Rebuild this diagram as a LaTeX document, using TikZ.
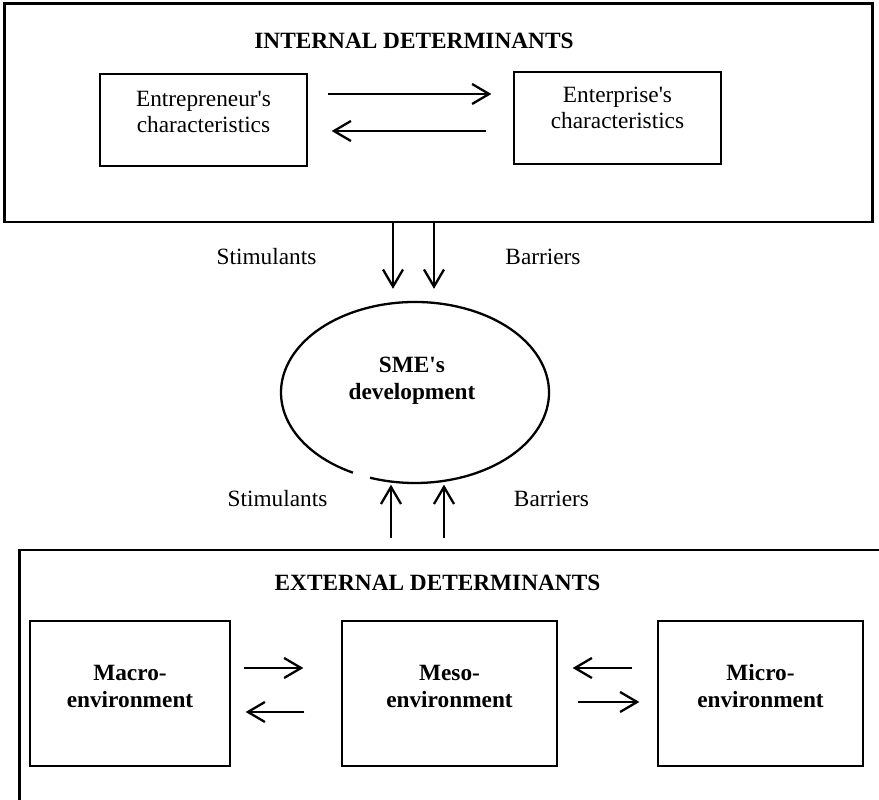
\documentclass[tikz,border=0pt]{standalone}
\usepackage{fontspec}
\setmainfont{Liberation Serif}
\usetikzlibrary{arrows.meta,shapes.geometric,calc}
\newcommand{\ap}{\textquotesingle}
\begin{document}
\begin{tikzpicture}[x=1pt,y=1pt,
  outer/.style={draw, line width=2.5pt, inner sep=0pt},
  inbox/.style={draw, line width=1.3pt, inner sep=0pt},
  reg/.style={font=\fontsize{23.3}{26}\selectfont, align=center, inner sep=0pt},
  bld/.style={font=\fontsize{23.3}{27}\selectfont\bfseries, align=center, inner sep=0pt},
  arr/.style={line width=2.3pt, -{Straight Barb[length=17pt,width=20pt]}},
]
\useasboundingbox (0,0) rectangle (879,800);
\clip (0,0) rectangle (879,800);

% internal determinants
\node[outer, minimum width=868pt, minimum height=218.5pt] (intbox) at (438.5,687.25) {};
\node[bld] (intt) at (414,759.5) {INTERNAL DETERMINANTS};
\node[inbox, minimum width=207pt, minimum height=92pt] (ent) at (203.5,680) {};
\node[reg] (entt) at (203.5,687.8) {Entrepreneur\ap s\\characteristics};
\node[inbox, minimum width=207pt, minimum height=92pt] (epr) at (617.5,682) {};
\node[reg] (eprt) at (617.5,691.8) {Enterprise\ap s\\characteristics};
\draw[arr, shorten <=20pt, shorten >=22pt] (ent.east |- 0,706) -- (epr.west |- 0,706);
\draw[arr, shorten <=27pt, shorten >=24pt] (epr.west |- 0,669) -- (ent.east |- 0,669);

% SME development
\node[ellipse, minimum width=268pt, minimum height=181pt, inner sep=0pt] (sme) at (415,407.5) {};
\draw[line width=2.3pt] ($(sme.center)+(250.4:134 and 90.5)$) arc[start angle=250.4, end angle=602.4, x radius=134, y radius=90.5];
\node[bld] (smet) at (412,419) {SME\ap s\\development};

\draw[arr, shorten >=13pt] (intbox.south -| 393,0) -- (sme.north -| 393,0);
\draw[arr, shorten >=13pt] (intbox.south -| 434,0) -- (sme.north -| 434,0);
\node[reg] (st1) at (266.5,543) {Stimulants};
\node[reg] (ba1) at (543,543) {Barriers};

% external determinants
\node[outer, minimum width=890.5pt, minimum height=280pt] (extbox) at (464.75,110) {};
\node[bld] (extt) at (437.5,217.5) {EXTERNAL DETERMINANTS};

\draw[arr, shorten <=11pt, shorten >=1.5pt] (extbox.north -| 391,0) -- (sme.south -| 391,0);
\draw[arr, shorten <=11pt, shorten >=1.5pt] (extbox.north -| 444,0) -- (sme.south -| 444,0);
\node[reg] (st2) at (277.5,301.5) {Stimulants};
\node[reg] (ba2) at (551.5,301.5) {Barriers};

\node[inbox, minimum width=200pt, minimum height=145pt] (macro) at (130,106.5) {};
\node[bld] (macrot) at (130,113.7) {Macro-\\environment};
\node[inbox, minimum width=215pt, minimum height=145pt] (meso) at (449.5,106.5) {};
\node[bld] (mesot) at (449.5,113.7) {Meso-\\environment};
\node[inbox, minimum width=205pt, minimum height=145pt] (micro) at (760.5,106.5) {};
\node[bld] (microt) at (760.5,113.7) {Micro-\\environment};

\draw[arr, shorten <=13pt, shorten >=38pt] (macro.east |- 0,132) -- (meso.west |- 0,132);
\draw[arr, shorten <=37pt, shorten >=15pt] (meso.west |- 0,88) -- (macro.east |- 0,88);
\draw[arr, shorten <=25pt, shorten >=15pt] (micro.west |- 0,132) -- (meso.east |- 0,132);
\draw[arr, shorten <=20pt, shorten >=18pt] (meso.east |- 0,98) -- (micro.west |- 0,98);
\end{tikzpicture}
\end{document}
